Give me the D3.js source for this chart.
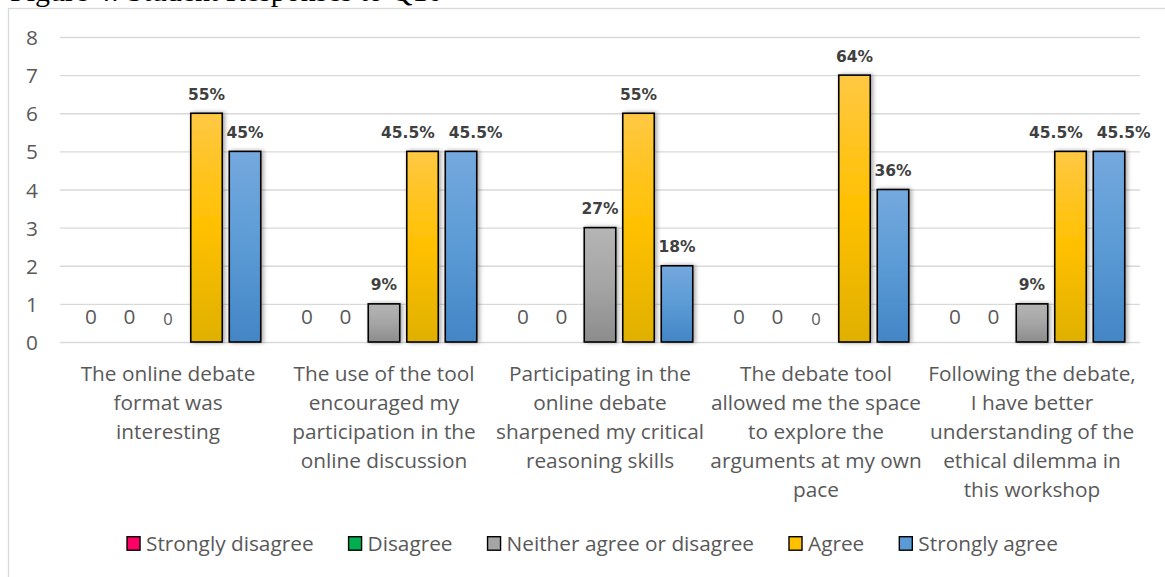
<!DOCTYPE html>
<html><head><meta charset="utf-8">
<script src="https://cdn.jsdelivr.net/npm/d3@7/dist/d3.min.js"></script>
<style>
html,body{margin:0;padding:0;background:#fff;overflow:hidden;}
svg{display:block;}
</style></head>
<body>
<svg id="chart" width="1165" height="577"></svg>
<script>
// ---- data ----
const categories = [
  "The online debate format was interesting",
  "The use of the tool encouraged my participation in the online discussion",
  "Participating in the online debate sharpened my critical reasoning skills",
  "The debate tool allowed me the space to explore the arguments at my own pace",
  "Following the debate, I have better understanding of the ethical dilemma in this workshop"
];
const categoryLines = [
  ["The online debate","format was","interesting"],
  ["The use of the tool","encouraged my","participation in the","online discussion"],
  ["Participating in the","online debate","sharpened my critical","reasoning skills"],
  ["The debate tool","allowed me the space","to explore the","arguments at my own","pace"],
  ["Following the debate,","I have better","understanding of the","ethical dilemma in","this workshop"]
];
const seriesNames = ["Strongly disagree","Disagree","Neither agree or disagree","Agree","Strongly agree"];
const stronglyDisagree = [0,0,0,0,0];
const disagree = [0,0,0,0,0];
const neither = [0,1,3,0,1];
const agree = [6,5,6,7,5];
const stronglyAgree = [5,5,2,4,5];
const stronglyDisagreeLabels = ["0","0","0","0","0"];
const disagreeLabels = ["0","0","0","0","0"];
const neitherLabels = ["0","9%","27%","0","9%"];
const agreeLabels = ["55%","45.5%","55%","64%","45.5%"];
const stronglyAgreeLabels = ["45%","45.5%","18%","36%","45.5%"];
const yTicks = [0,1,2,3,4,5,6,7,8];
const titleText = "Figure 4: Student Responses to Q10";

// ---- layout / style ----
const seriesValues = [stronglyDisagree, disagree, neither, agree, stronglyAgree];
const seriesLabels = [stronglyDisagreeLabels, disagreeLabels, neitherLabels, agreeLabels, stronglyAgreeLabels];
const colors = {
  "Strongly disagree": ["#FF3385","#FF0066","#E0005A"],
  "Disagree": ["#33C070","#00B050","#009A46"],
  "Neither agree or disagree": ["#B5B5B5","#A5A5A5","#8C8C8C"],
  "Agree": ["#FFC843","#FFC000","#E0B000"],
  "Strongly agree": ["#74A9DE","#5B9BD5","#4385C6"]
};
const plot = {left:60, right:1140, top:37, bottom:342};
const textColor = "#595959";
const labelFont = "'Open Sans', sans-serif";
const valueFont = "'DejaVu Sans', sans-serif";
const labelSize = 20.8;

const svg = d3.select("#chart");
const defs = svg.append("defs");
seriesNames.forEach((s,i)=>{
  const g = defs.append("linearGradient").attr("id","grad"+i).attr("x1",0).attr("y1",0).attr("x2",0).attr("y2",1);
  g.append("stop").attr("offset","0%").attr("stop-color",colors[s][0]);
  g.append("stop").attr("offset","50%").attr("stop-color",colors[s][1]);
  g.append("stop").attr("offset","100%").attr("stop-color",colors[s][2]);
});
const f = defs.append("filter").attr("id","shadow").attr("x","-30%").attr("y","-10%").attr("width","160%").attr("height","120%");
f.append("feDropShadow").attr("dx",2).attr("dy",0).attr("stdDeviation",2).attr("flood-color","#000").attr("flood-opacity",0.35);

// title (clipped at top)
svg.append("text").attr("x",10).attr("y",0.5)
  .attr("font-family","'Liberation Serif','Times New Roman',serif").attr("font-size",30)
  .attr("fill","#000").text(titleText);

// chart frame
svg.append("rect").attr("x",8.5).attr("y",8.5).attr("width",1200).attr("height",600)
  .attr("fill","#fff").attr("stroke","#D9D9D9").attr("stroke-width",1.3);

const y = d3.scaleLinear().domain([0,8]).range([plot.bottom, plot.top]);
const x0 = d3.scaleBand().domain(d3.range(categories.length)).range([plot.left, plot.right]).paddingInner(0).paddingOuter(0);
const x1 = d3.scaleBand().domain(d3.range(seriesNames.length)).range([0, x0.bandwidth()]).paddingInner(0.182).paddingOuter(0.396);

// grid + y axis
const yAxis = d3.axisLeft(y).tickValues(yTicks).tickSize(-(plot.right-plot.left)).tickFormat(d3.format("d"));
const ga = svg.append("g").attr("transform",`translate(${plot.left},0)`).call(yAxis);
ga.select(".domain").remove();
ga.selectAll(".tick line").attr("stroke","#D9D9D9").attr("stroke-width",1.3);
ga.selectAll(".tick text").attr("x",-22).attr("fill",textColor).attr("font-family",labelFont).attr("font-size",labelSize).attr("text-anchor","end").attr("dy","0.36em");

// bars
const groups = svg.append("g").selectAll("g").data(categories).join("g")
  .attr("transform",(d,i)=>`translate(${x0(i)},0)`);
groups.each(function(cat, ci){
  const g = d3.select(this);
  const valueTexts = [];
  seriesNames.forEach((s, si)=>{
    const v = seriesValues[si][ci];
    const cx = x1(si) + x1.bandwidth()/2;
    if (v > 0) {
      g.append("rect").attr("x",x1(si)).attr("y",y(v)).attr("width",x1.bandwidth()).attr("height",y(0)-y(v))
        .attr("fill",`url(#grad${si})`).attr("stroke","#000").attr("stroke-width",1.6).attr("filter","url(#shadow)");
      const t = g.append("text").attr("x",cx).attr("y",y(v)-13.5).attr("text-anchor","middle")
        .attr("font-family",valueFont).attr("font-weight","bold").attr("font-size",15.5).attr("fill","#404040")
        .text(seriesLabels[si][ci]);
      valueTexts.push({t, cx, y:y(v)});
    } else {
      const small = si === 2;
      g.append("text").attr("x",cx).attr("y",y(0)-(small?17:18.5)).attr("text-anchor","middle")
        .attr("font-family",labelFont).attr("font-size",small?16.5:labelSize).attr("fill",textColor)
        .text(seriesLabels[si][ci]);
    }
  });
  // simple collision avoidance for adjacent labels at the same height
  for (let k=1;k<valueTexts.length;k++){
    const a = valueTexts[k-1], b = valueTexts[k];
    if (Math.abs(a.y-b.y) < 18) {
      const wa = a.t.node().getComputedTextLength(), wb = b.t.node().getComputedTextLength();
      const need = (wa+wb)/2 + 14;
      const have = b.cx - a.cx;
      if (have < need) {
        const d = (need-have)/2;
        a.t.attr("x", a.cx - d); b.t.attr("x", b.cx + d);
      }
    }
  }
});

// category labels
categoryLines.forEach((lines, ci)=>{
  const cx = x0(ci) + x0.bandwidth()/2;
  const t = svg.append("text").attr("text-anchor","middle").attr("font-family",labelFont).attr("font-size",labelSize).attr("fill",textColor);
  lines.forEach((ln, li)=>{
    t.append("tspan").attr("x",cx).attr("y",380.7 + li*29).text(ln);
  });
});

// legend (laid out from measured text widths, centred)
const lg = svg.append("g");
const items = seriesNames.map((s, si)=>{
  const it = lg.append("g");
  it.append("rect").attr("x",0).attr("y",536.7).attr("width",13).attr("height",13.5)
    .attr("fill",colors[s][1]).attr("stroke","#000").attr("stroke-width",1.4);
  const t = it.append("text").attr("x",19).attr("y",550.5).attr("font-family",labelFont).attr("font-size",labelSize).attr("fill",textColor).text(s);
  return {it, w: 19 + t.node().getComputedTextLength()};
});
const gap = 35;
const total = d3.sum(items, d=>d.w) + gap*(items.length-1);
let lx = 592.5 - total/2;
items.forEach(d=>{ d.it.attr("transform",`translate(${lx},0)`); lx += d.w + gap; });
</script>
</body></html>
